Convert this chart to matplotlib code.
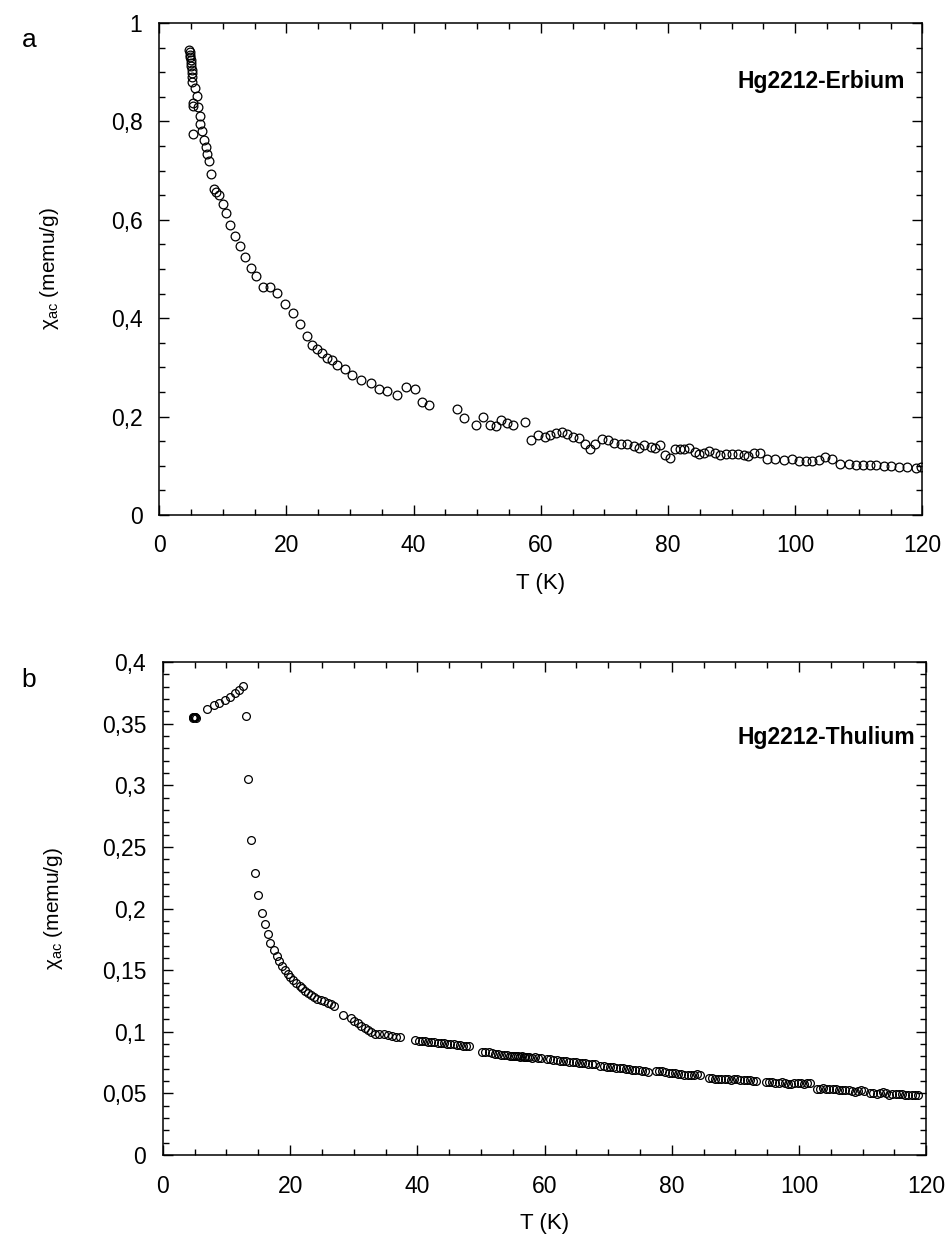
import matplotlib
matplotlib.use("Agg")
import matplotlib.pyplot as plt
from matplotlib.ticker import MultipleLocator, FuncFormatter

plt.rcParams['font.family'] = ['Liberation Sans', 'DejaVu Sans']
plt.rcParams['mathtext.fontset'] = 'custom'
plt.rcParams['mathtext.rm'] = 'Liberation Sans'
plt.rcParams['mathtext.it'] = 'Liberation Sans:italic'

# Panel a: Hg2212-Erbium
T_er = [4.75, 4.8, 4.85, 4.9, 4.95, 5.0, 5.05, 5.1, 5.1, 5.15, 5.2, 5.3, 5.35, 5.4,
        5.7, 5.9, 6.1, 6.4, 6.5, 6.7, 7.0, 7.3, 7.5, 7.8, 8.2, 8.6, 9.0, 9.4, 10.0,
        10.5, 11.1, 11.9, 12.7, 13.5, 14.5, 15.3, 16.3, 17.4, 18.5, 19.8, 21.0, 22.2,
        23.2, 24.0, 24.8, 25.6, 26.4, 27.2, 28.0, 29.2, 30.4, 31.8, 33.3, 34.6, 35.9,
        37.4, 38.8, 40.2, 41.4, 42.5, 46.8, 47.9, 49.9, 51.0, 52.0, 52.9, 53.8, 54.7,
        55.7, 57.6, 58.5, 59.6, 60.6, 61.5, 62.4, 63.3, 64.2, 65.1, 66.0, 66.9, 67.8,
        68.6, 69.6, 70.5, 71.5, 72.6, 73.5, 74.6, 75.5, 76.3, 77.3, 78.0, 78.8, 79.6,
        80.4, 81.1, 81.9, 82.6, 83.3, 84.2, 84.9, 85.7, 86.5, 87.4, 88.2, 89.1, 90.1,
        91.0, 91.9, 92.6, 93.5, 94.4, 95.6, 96.8, 98.2, 99.5, 100.6, 101.7, 102.7,
        103.7, 104.7, 105.8, 107.1, 108.4, 109.5, 110.6, 111.7, 112.7, 113.9, 115.1,
        116.4, 117.6, 119.0, 119.8]
chi_er = [0.945, 0.940, 0.935, 0.930, 0.924, 0.918, 0.912, 0.905, 0.898, 0.890, 0.879,
          0.838, 0.831, 0.774, 0.867, 0.851, 0.830, 0.810, 0.795, 0.781, 0.763, 0.748,
          0.734, 0.719, 0.692, 0.663, 0.657, 0.651, 0.633, 0.613, 0.590, 0.567, 0.546,
          0.524, 0.502, 0.485, 0.464, 0.464, 0.452, 0.429, 0.410, 0.389, 0.364, 0.345,
          0.337, 0.329, 0.319, 0.314, 0.304, 0.296, 0.284, 0.275, 0.268, 0.257, 0.251,
          0.244, 0.260, 0.256, 0.230, 0.224, 0.215, 0.197, 0.183, 0.199, 0.182, 0.181,
          0.193, 0.187, 0.183, 0.189, 0.153, 0.162, 0.158, 0.162, 0.166, 0.168, 0.165,
          0.159, 0.157, 0.145, 0.135, 0.145, 0.154, 0.153, 0.147, 0.145, 0.144, 0.140,
          0.136, 0.142, 0.138, 0.136, 0.143, 0.122, 0.116, 0.135, 0.135, 0.135, 0.136,
          0.128, 0.124, 0.125, 0.130, 0.125, 0.122, 0.123, 0.123, 0.123, 0.122, 0.120,
          0.126, 0.126, 0.114, 0.113, 0.111, 0.114, 0.110, 0.109, 0.109, 0.112, 0.117,
          0.113, 0.104, 0.104, 0.101, 0.101, 0.101, 0.101, 0.099, 0.099, 0.097, 0.097,
          0.096, 0.097]

# Panel b: Hg2212-Thulium
T_tm = [4.7, 4.8, 4.9, 5.0, 5.1, 5.2, 7.0, 8.0, 8.8, 9.7, 10.5, 11.3, 11.9, 12.6,
        13.0, 13.4, 13.9, 14.5, 15.0, 15.6, 16.0, 16.5, 16.9, 17.5, 17.9, 18.3, 18.8,
        19.2, 19.6, 20.0, 20.5, 21.0, 21.5, 21.9, 22.4, 22.8, 23.3, 23.8, 24.3, 24.8,
        25.4, 25.9, 26.4, 26.9, 28.3, 29.6, 30.1, 30.6, 31.2, 31.7, 32.2, 32.7, 33.4,
        34.0, 34.7, 35.4, 36.0, 36.7, 37.2,
        39.7, 40.2, 40.7, 41.2, 41.7, 42.2, 42.7, 43.2, 43.7, 44.2, 44.7, 45.2, 45.7,
        46.2, 46.7, 47.2, 47.7, 48.2,
        50.2, 50.7, 51.2, 51.7, 52.2, 52.7, 53.2, 53.7, 54.1, 54.5, 54.9, 55.2, 55.5,
        55.8, 56.1, 56.4, 56.7, 57.0, 57.3, 57.6, 58.0, 58.5, 59.0, 59.5,
        60.4, 60.9, 61.4, 61.9, 62.4, 62.9, 63.4, 63.9, 64.4, 64.9, 65.4, 65.9, 66.4,
        66.9, 67.4, 67.9,
        68.8, 69.3, 69.8, 70.3, 70.8, 71.3, 71.8, 72.3, 72.8, 73.3, 73.8, 74.3, 74.8,
        75.3, 75.8, 76.3,
        77.5, 78.0, 78.5, 79.0, 79.5, 80.0, 80.5, 81.0, 81.5, 82.0, 82.5, 83.0, 83.5,
        84.0, 84.5,
        85.8, 86.3, 86.8, 87.3, 87.8, 88.3, 88.8, 89.3, 89.8, 90.3, 90.8, 91.3, 91.8,
        92.3, 92.8, 93.3,
        94.8, 95.3, 95.8, 96.3, 96.8, 97.3, 97.8, 98.3, 98.8, 99.3, 99.8, 100.3, 100.8,
        101.3, 101.8,
        102.8, 103.3, 103.8, 104.3, 104.8, 105.3, 105.8, 106.3, 106.8, 107.3, 107.8,
        108.3, 108.8, 109.3, 109.8, 110.3,
        111.2, 111.7, 112.2, 112.7, 113.2, 113.7, 114.2, 114.7, 115.2, 115.7, 116.2,
        116.7, 117.2, 117.7, 118.2, 118.7]
chi_tm = [0.3555, 0.3550, 0.3558, 0.3552, 0.3556, 0.3550, 0.362, 0.365, 0.3667, 0.369,
          0.3717, 0.3746, 0.3775, 0.3805, 0.3565, 0.3049, 0.2559, 0.2288, 0.2112,
          0.1967, 0.1873, 0.1791, 0.1718, 0.166, 0.1616, 0.1572, 0.1534, 0.1499, 0.147,
          0.1447, 0.1418, 0.1394, 0.1371, 0.1354, 0.1333, 0.1316, 0.130, 0.128, 0.1266,
          0.126, 0.1249, 0.1237, 0.1223, 0.1208, 0.114, 0.1112, 0.1085, 0.1068, 0.105,
          0.1033, 0.1013, 0.0995, 0.0986, 0.0983, 0.098, 0.0974, 0.0968, 0.096, 0.0954,
          0.0930, 0.0928, 0.0925, 0.0922, 0.0920, 0.0918, 0.0916, 0.0913, 0.0910, 0.0909,
          0.0905, 0.0902, 0.0898, 0.0895, 0.0890, 0.0888, 0.0884, 0.0882,
          0.0835, 0.0836, 0.0833, 0.0826, 0.0822, 0.0818, 0.0814, 0.0812, 0.0808, 0.0805,
          0.0807, 0.0802, 0.0800, 0.0803, 0.0798, 0.0800, 0.0795, 0.0797, 0.0799, 0.0793,
          0.0789, 0.0792, 0.0787, 0.0785,
          0.0778, 0.0776, 0.0772, 0.0769, 0.0766, 0.0763, 0.0760, 0.0757, 0.0755, 0.0752,
          0.0750, 0.0746, 0.0744, 0.0741, 0.0738, 0.0736,
          0.0726, 0.0723, 0.0718, 0.0716, 0.0714, 0.0710, 0.0707, 0.0703, 0.0701, 0.0698,
          0.0694, 0.0690, 0.0687, 0.0683, 0.0678, 0.0673,
          0.0680, 0.0683, 0.0678, 0.0672, 0.0668, 0.0665, 0.0662, 0.0660, 0.0656, 0.0652,
          0.0650, 0.0646, 0.0650, 0.0655, 0.0651,
          0.0624, 0.0623, 0.0621, 0.0620, 0.0617, 0.0619, 0.0614, 0.0612, 0.0615, 0.0618,
          0.0613, 0.0610, 0.0609, 0.0606, 0.0604, 0.0602,
          0.0595, 0.0593, 0.0592, 0.0588, 0.0584, 0.0590, 0.0585, 0.0580, 0.0576, 0.0583,
          0.0587, 0.0581, 0.0578, 0.0582, 0.0585,
          0.0540, 0.0537, 0.0542, 0.0539, 0.0535, 0.0533, 0.0536, 0.0531, 0.0527, 0.0530,
          0.0524, 0.0517, 0.0512, 0.0520, 0.0526, 0.0522,
          0.0505, 0.0503, 0.0498, 0.0503, 0.0508, 0.0502, 0.0490, 0.0495, 0.0499, 0.0493,
          0.0496, 0.0489, 0.0485, 0.0487, 0.0486, 0.0484]

comma = FuncFormatter(lambda v, p: ('%g' % v).replace('.', ','))

fig = plt.figure(figsize=(9.47, 12.4), dpi=100)
ax1 = fig.add_axes([0.168, 0.5847, 0.806, 0.3968])
ax2 = fig.add_axes([0.172, 0.0685, 0.806, 0.3976])


def style(ax, ymax, ymajor, yminor, title, title_xy):
    ax.set_xlim(0, 120)
    ax.set_ylim(0, ymax)
    ax.xaxis.set_major_locator(MultipleLocator(20))
    ax.xaxis.set_minor_locator(MultipleLocator(5))
    ax.yaxis.set_major_locator(MultipleLocator(ymajor))
    ax.yaxis.set_minor_locator(MultipleLocator(yminor))
    ax.yaxis.set_major_formatter(comma)
    ax.tick_params(which='both', direction='in', top=True, right=True, width=1.0)
    ax.tick_params(which='major', length=7, labelsize=16.5)
    ax.tick_params(which='minor', length=4)
    ax.tick_params(axis='x', which='major', pad=14)
    ax.tick_params(axis='y', which='major', pad=12)
    for s in ax.spines.values():
        s.set_linewidth(1.1)
    ax.set_xlabel('T (K)', fontsize=16)
    ax.set_ylabel('χ$_{\\rm ac}$ (memu/g)', fontsize=15)
    ax.xaxis.set_label_coords(0.5, -0.118)
    ax.yaxis.set_label_coords(-0.128, 0.5)
    ax.text(title_xy[0], title_xy[1], title, transform=ax.transAxes,
            ha='right', va='center', fontsize=16.5, fontweight='bold')


ax1.plot(T_er, chi_er, 'o', mfc='none', mec='black', ms=6.3, mew=0.9)
style(ax1, 1.0, 0.2, 0.05, 'Hg2212-Erbium', (0.977, 0.88))

ax2.plot(T_tm, chi_tm, 'o', mfc='none', mec='black', ms=5.6, mew=0.9)
style(ax2, 0.4, 0.05, 0.01, 'Hg2212-Thulium', (0.985, 0.846))

fig.text(0.023, 0.968, 'a', fontsize=19, ha='left', va='center')
fig.text(0.023, 0.452, 'b', fontsize=19, ha='left', va='center')

fig.savefig('out.png', dpi=100)
